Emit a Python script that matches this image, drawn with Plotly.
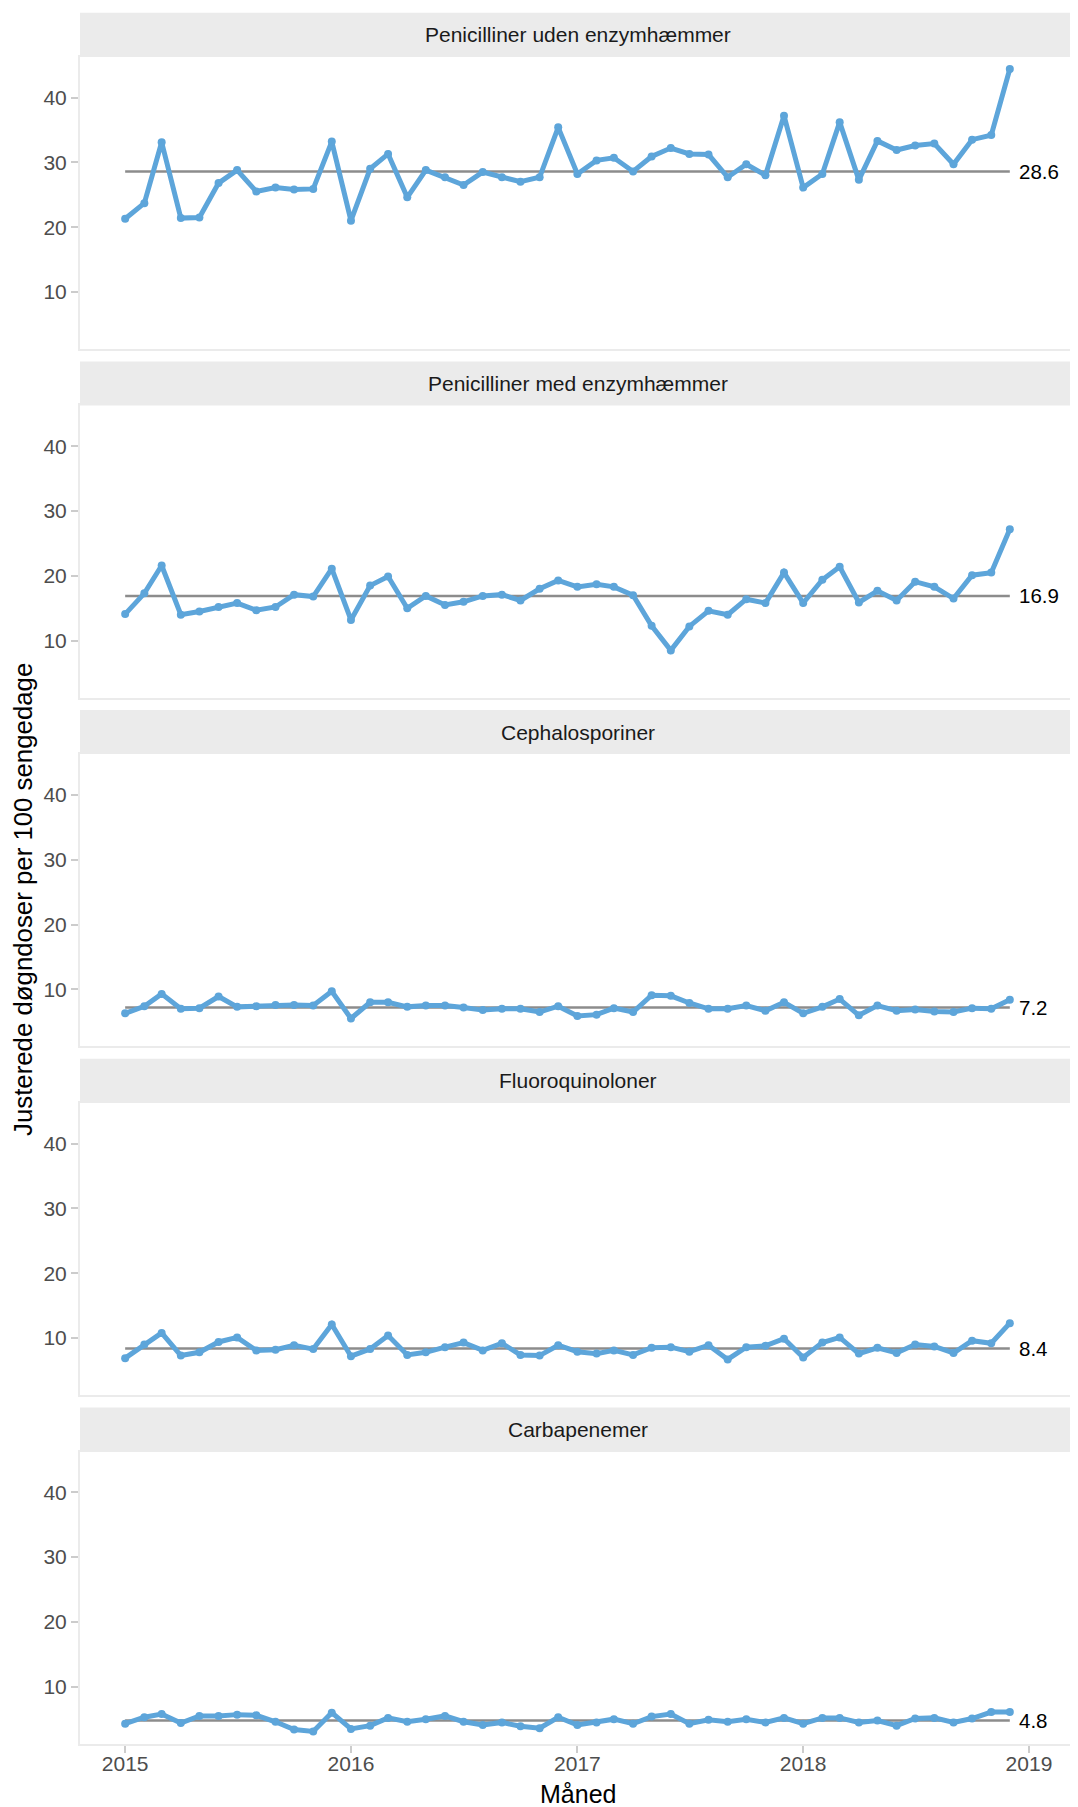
import pandas as pd
import plotly.graph_objects as go

# ---------------- data ----------------
months = pd.date_range("2015-01-01", periods=48, freq="MS")

panel_titles = [
    "Penicilliner uden enzymhæmmer",
    "Penicilliner med enzymhæmmer",
    "Cephalosporiner",
    "Fluoroquinoloner",
    "Carbapenemer",
]

pen_uden = [21.3, 23.7, 33.1, 21.4, 21.5, 26.8, 28.8, 25.5, 26.1, 25.8, 25.9, 33.2,
            21.0, 29.0, 31.3, 24.6, 28.8, 27.7, 26.5, 28.5, 27.7, 27.0, 27.7, 35.4,
            28.2, 30.3, 30.7, 28.6, 30.9, 32.2, 31.3, 31.2, 27.7, 29.7, 28.0, 37.2,
            26.1, 28.2, 36.2, 27.3, 33.3, 31.9, 32.6, 32.9, 29.7, 33.5, 34.2, 44.4]
pen_med = [14.1, 17.3, 21.6, 14.0, 14.5, 15.2, 15.8, 14.7, 15.2, 17.1, 16.8, 21.1,
           13.2, 18.5, 19.9, 15.0, 16.9, 15.5, 16.0, 16.9, 17.1, 16.2, 18.0, 19.3,
           18.3, 18.7, 18.3, 17.0, 12.3, 8.5, 12.2, 14.6, 14.0, 16.4, 15.8, 20.5,
           15.8, 19.4, 21.4, 15.9, 17.7, 16.2, 19.1, 18.3, 16.5, 20.1, 20.5, 27.2]
cephalo = [6.3, 7.4, 9.3, 7.0, 7.1, 8.9, 7.3, 7.4, 7.6, 7.6, 7.5, 9.7,
           5.5, 8.0, 8.0, 7.3, 7.5, 7.5, 7.2, 6.8, 7.0, 7.0, 6.5, 7.4,
           5.9, 6.1, 7.1, 6.5, 9.1, 9.0, 7.9, 7.0, 7.0, 7.5, 6.7, 8.0,
           6.3, 7.3, 8.5, 6.0, 7.5, 6.7, 6.9, 6.6, 6.5, 7.1, 7.0, 8.4]
fluoro = [6.9, 9.0, 10.8, 7.3, 7.8, 9.4, 10.1, 8.1, 8.2, 8.9, 8.3, 12.1,
          7.2, 8.3, 10.4, 7.4, 7.8, 8.6, 9.3, 8.1, 9.2, 7.4, 7.3, 8.9,
          7.9, 7.6, 8.1, 7.4, 8.5, 8.6, 7.9, 8.9, 6.7, 8.6, 8.8, 9.9,
          7.0, 9.3, 10.1, 7.6, 8.5, 7.7, 9.0, 8.7, 7.7, 9.6, 9.2, 12.3]
carba = [4.3, 5.3, 5.8, 4.4, 5.5, 5.5, 5.7, 5.6, 4.6, 3.4, 3.1, 6.0,
         3.5, 4.0, 5.2, 4.6, 5.0, 5.5, 4.6, 4.1, 4.5, 3.9, 3.6, 5.3,
         4.1, 4.5, 5.0, 4.3, 5.4, 5.8, 4.3, 4.9, 4.6, 5.0, 4.5, 5.2,
         4.3, 5.2, 5.2, 4.5, 4.8, 4.0, 5.1, 5.2, 4.5, 5.1, 6.1, 6.1]
series = [pen_uden, pen_med, cephalo, fluoro, carba]

center_values = [28.6, 16.9, 7.2, 8.4, 4.8]

y_ticks = [10, 20, 30, 40]

# ---------------- layout constants ----------------
# page body has an 8px margin, so the figure is sized/positioned to compensate
OFF = 8
W, H = 1078 - OFF, 1807 - OFF
FONT = "Liberation Sans, Arial, sans-serif"
BLUE = "#5DA5DA"
GREY_LINE = "#8C8C8C"
BORDER = "#EBEBEB"
STRIP = "#EBEBEB"

x_left_px, x_right_px = 80 - OFF, 1076 - OFF
panel_top0 = 56.7 - OFF
panel_h = 292.3
period = 348.7
strip_h = 44.0

x_range = [pd.Timestamp("2015-01-01") - pd.Timedelta(days=73),
           pd.Timestamp("2019-01-01") + pd.Timedelta(days=76)]
y_range = [1.2, 46.3]

fig = go.Figure()

for i, (title, vals, cval) in enumerate(zip(panel_titles, series, center_values)):
    k = "" if i == 0 else str(i + 1)
    xa, ya = "x" + k, "y" + k
    top = panel_top0 + i * period
    bot = top + panel_h
    dom_y = [1 - bot / H, 1 - top / H]

    # centre line
    fig.add_trace(go.Scatter(
        x=[months[0], months[-1]], y=[cval, cval], mode="lines",
        line=dict(color=GREY_LINE, width=2.5), xaxis=xa, yaxis=ya,
        hoverinfo="skip", showlegend=False))
    # data
    fig.add_trace(go.Scatter(
        x=months, y=vals, mode="lines+markers",
        line=dict(color=BLUE, width=5), marker=dict(color=BLUE, size=8),
        xaxis=xa, yaxis=ya, showlegend=False))

    last = (i == len(series) - 1)
    fig.layout["xaxis" + k] = dict(
        domain=[x_left_px / W, x_right_px / W], anchor=ya, range=x_range,
        type="date", dtick="M12", tick0="2015-01-01", tickformat="%Y",
        showticklabels=last, ticks="outside" if last else "",
        ticklen=7, tickwidth=1.8, tickcolor="#CCCCCC", ticklabelstandoff=-7,
        tickfont=dict(family=FONT, size=21, color="#4D4D4D"),
        showgrid=False, zeroline=False,
        showline=True, mirror=True, linecolor=BORDER, linewidth=2)
    fig.layout["yaxis" + k] = dict(
        domain=dom_y, anchor=xa, range=y_range,
        tickmode="array", tickvals=y_ticks, ticktext=[str(t) for t in y_ticks],
        ticks="outside", ticklen=7, tickwidth=1.8, tickcolor="#CCCCCC",
        tickfont=dict(family=FONT, size=21, color="#4D4D4D"),
        showgrid=False, zeroline=False,
        showline=True, mirror=True, linecolor=BORDER, linewidth=2)

    # strip
    s_top = top - strip_h
    fig.add_shape(type="rect", xref="paper", yref="paper",
                  x0=x_left_px / W, x1=x_right_px / W,
                  y0=1 - top / H, y1=1 - s_top / H,
                  fillcolor=STRIP, line=dict(width=0), layer="below")
    fig.add_annotation(text=title, xref="paper", yref="paper",
                       x=(x_left_px + x_right_px) / 2 / W,
                       y=1 - (s_top + strip_h / 2) / H,
                       xanchor="center", yanchor="middle", showarrow=False,
                       font=dict(family=FONT, size=21, color="#1A1A1A"))
    # centre value label
    fig.add_annotation(text=f"{cval}", x=months[-1], y=cval, xref=xa, yref=ya,
                       xanchor="left", yanchor="middle", xshift=7, showarrow=False,
                       font=dict(family=FONT, size=20.5, color="#000000"))

# axis titles
fig.add_annotation(text="Justerede døgndoser per 100 sengedage", xref="paper", yref="paper",
                   x=(23 - OFF) / W, y=1 - (900 - OFF) / H, textangle=-90, showarrow=False,
                   xanchor="center", yanchor="middle",
                   font=dict(family=FONT, size=25.8, color="#000000"))
fig.add_annotation(text="Måned", xref="paper", yref="paper",
                   x=(x_left_px + x_right_px) / 2 / W, y=1 - (1794 - OFF) / H, showarrow=False,
                   xanchor="center", yanchor="middle",
                   font=dict(family=FONT, size=25, color="#000000"))

fig.update_layout(width=W, height=H, margin=dict(l=0, r=0, t=0, b=0),
                  paper_bgcolor="white", plot_bgcolor="white",
                  font=dict(family=FONT), showlegend=False)

fig.write_html("out.html")
